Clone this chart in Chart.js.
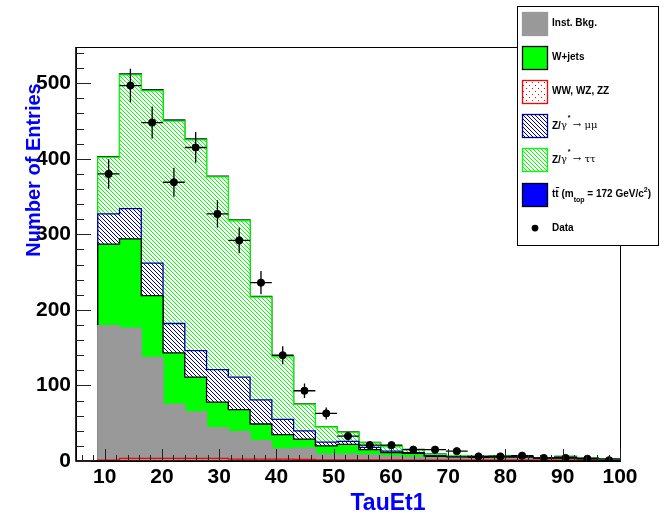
<!DOCTYPE html>
<html>
<head>
<meta charset="utf-8">
<script src="https://cdn.jsdelivr.net/npm/chart.js@4.4.1/dist/chart.umd.min.js"></script>
<style>
  html, body { margin: 0; padding: 0; background: #fff; }
</style>
</head>
<body>
<canvas id="myChart" width="660" height="518"></canvas>
<script>
// histogram bin edges (bins of 3.8 GeV, first bin 5-8.8 is empty)
const xEdges = [8.8, 12.6, 16.4, 20.2, 24, 27.8, 31.6, 35.4, 39.2, 43, 46.8, 50.6, 54.4, 58.2, 62, 65.8, 69.6, 73.4, 77.2, 81, 84.8, 88.6, 92.4, 96.2, 100];

// one value per bin, bottom of the stack first
const dibosons = [1, 3.5, 3.5, 3.5, 3.5, 3.5, 2.5, 2.5, 2.5, 2, 1.5, 1.5, 1.5, 1.5, 1, 1, 1, 1, 1, 1, 1, 1, 1, 0.5];
const instBkg = [178, 172.5, 133.5, 71.5, 61.5, 40.5, 36.5, 24.5, 13.5, 15, 7.5, 7.5, 6.5, 4.5, 4, 3, 2.5, 2, 2, 2, 1.5, 1.5, 1, 1];
const wJets = [108, 118, 82, 68, 46, 34, 29, 22, 19, 12, 11, 13, 7, 5, 5, 2, 1.5, 1.5, 2, 2, 0.5, 2, 1, 0.5];
const zMuMu = [40, 40, 43, 39, 35, 43, 43, 32, 20, 11, 5, 4, 3, 2, 1, 1, 0.5, 0.5, 1, 1, 0.5, 0.5, 0.5, 0.5];
const zTauTau = [75, 177, 228, 268, 279, 255, 207, 136, 83, 35, 20, 12, 6, 6, 4, 2, 1.5, 1, 1, 1, 0.5, 1, 0.5, 0.5];
const ttbar = [1, 1.5, 1.5, 1.5, 1.5, 1, 1, 1, 0.5, 0.5, 0.5, 0.5, 0.5, 0.3, 0.3, 0.3, 0.2, 0.2, 0.2, 0.2, 0.2, 0.1, 0.1, 0.1];

const dataCounts = [380, 497, 448, 369, 415, 327, 292, 236, 140, 93, 63, 33, 21, 21, 15, 15, 13, 6, 6, 7, 4, 4, 3, 1];

const xTickLabels = [10, 20, 30, 40, 50, 60, 70, 80, 90, 100];
const yTickLabels = [0, 100, 200, 300, 400, 500];

const FONT = "'Liberation Sans', Arial, Helvetica, sans-serif";
const GRAY = "rgb(153,153,153)";
const GREEN = "rgb(0,255,0)";
const NAVY = "rgb(0,0,153)";
const RED = "rgb(255,0,0)";

// hatch patterns like ROOT fill styles
function hatch(color) {
    const c = document.createElement("canvas");
    c.width = 4; c.height = 4;
    const g = c.getContext("2d");
    g.fillStyle = "#fff";
    g.fillRect(0, 0, 4, 4);
    g.fillStyle = color;
    for (let i = 0; i < 4; i++) g.fillRect(i, i, 1, 1);
    return g.createPattern(c, "repeat");
}

function dots(color) {
    const c = document.createElement("canvas");
    c.width = 6; c.height = 6;
    const g = c.getContext("2d");
    g.fillStyle = color;
    g.fillRect(1, 1, 1, 1);
    g.fillRect(4, 4, 1, 1);
    return g.createPattern(c, "repeat");
}

const tauFill = hatch(GREEN);
const muFill = hatch(NAVY);
const wwFill = dots(RED);

// cumulative stack, like THStack
const layers = [dibosons, instBkg, wJets, zMuMu, zTauTau, ttbar];
let running = dibosons.map(() => 0);
const stacked = layers.map(arr => running = running.map((v, i) => v + arr[i]));

function stepPoints(vals) {
    const pts = [{ x: xEdges[0], y: 0 }];
    vals.forEach((v, i) => pts.push({ x: xEdges[i], y: v }));
    const last = xEdges[xEdges.length - 1];
    pts.push({ x: last, y: vals[vals.length - 1] });
    pts.push({ x: last, y: 0 });
    return pts;
}

function histo(label, vals, fill, border, order) {
    return {
        label, data: stepPoints(vals),
        stepped: true, fill: "origin",
        backgroundColor: fill, borderColor: border, borderWidth: 1.3,
        pointRadius: 0, pointHoverRadius: 0, order
    };
}

const binCenters = dataCounts.map((v, i) => (xEdges[i] + xEdges[i + 1]) / 2);

const wwHist = histo("WW, WZ, ZZ", stacked[0], wwFill, RED, 1);
// the empty first bin is drawn too, as a line on zero
wwHist.data.unshift({ x: 5, y: 0 });

const datasets = [
    {
        type: "scatter", label: "Data",
        data: dataCounts.map((v, i) => ({ x: binCenters[i], y: v })),
        backgroundColor: "#000", borderColor: "#000",
        pointRadius: 3.6, order: 0
    },
    wwHist,
    histo("Inst. Bkg.", stacked[1], GRAY, GRAY, 2),
    histo("W+jets", stacked[2], GREEN, "#000", 3),
    histo("Z mumu", stacked[3], muFill, NAVY, 4),
    histo("Z tautau", stacked[4], tauFill, GREEN, 5),
    histo("ttbar", stacked[5], "rgb(0,0,255)", "#222", 6)
];

// ticks inside frame, error bars, titles and legend
const rootStyle = {
    id: "rootStyle",
    afterDatasetsDraw(chart) {
        const ctx = chart.ctx;
        const xs = chart.scales.x, ys = chart.scales.y;
        ctx.save();
        ctx.strokeStyle = "#000";
        ctx.lineWidth = 1.3;
        dataCounts.forEach((n, i) => {
            const cx = xs.getPixelForValue(binCenters[i]);
            const cy = ys.getPixelForValue(n);
            const err = Math.sqrt(n);
            ctx.beginPath();
            ctx.moveTo(xs.getPixelForValue(xEdges[i]), cy);
            ctx.lineTo(xs.getPixelForValue(xEdges[i + 1]), cy);
            ctx.moveTo(cx, ys.getPixelForValue(n - err));
            ctx.lineTo(cx, ys.getPixelForValue(n + err));
            ctx.stroke();
        });
        ctx.restore();
    },
    afterDraw(chart) {
        const ctx = chart.ctx;
        const a = chart.chartArea;
        const xs = chart.scales.x, ys = chart.scales.y;
        ctx.save();
        // frame
        ctx.strokeStyle = "#000";
        ctx.lineWidth = 1;
        ctx.strokeRect(a.left + 0.5, a.top + 0.5, a.right - a.left, a.bottom - a.top);
        ctx.lineWidth = 1.6;
        ctx.beginPath();
        ctx.moveTo(a.left, a.top); ctx.lineTo(a.left, a.bottom); ctx.lineTo(a.right, a.bottom);
        ctx.stroke();
        // ticks
        ctx.lineWidth = 1;
        ctx.strokeStyle = "#222";
        ctx.beginPath();
        for (let v = 0; v <= 540; v += 20) {
            const py = Math.round(ys.getPixelForValue(v)) + 0.5;
            const len = v % 100 === 0 ? 15 : 8;
            ctx.moveTo(a.left, py); ctx.lineTo(a.left + len, py);
        }
        for (let v = 6; v <= 100; v += 2) {
            const px = Math.round(xs.getPixelForValue(v)) + 0.5;
            const len = v % 10 === 0 ? 12 : 6;
            ctx.moveTo(px, a.bottom); ctx.lineTo(px, a.bottom - len);
        }
        ctx.stroke();

        // axis titles
        ctx.fillStyle = "rgb(0,0,255)";
        ctx.font = "bold 23px " + FONT;
        ctx.textAlign = "center";
        ctx.textBaseline = "alphabetic";
        ctx.fillText("TauEt1", 388, 510);
        ctx.save();
        ctx.translate(40, 170);
        ctx.rotate(-Math.PI / 2);
        ctx.font = "bold 20px " + FONT;
        ctx.fillText("Number of Entries", 0, 0);
        ctx.restore();

        // legend box
        const bx = 517.5, by = 6.5, bw = 141, bh = 239;
        ctx.fillStyle = "#fff";
        ctx.fillRect(bx, by, bw, bh);
        ctx.strokeStyle = "#000";
        ctx.lineWidth = 1;
        ctx.strokeRect(bx, by, bw, bh);

        const swatches = [
            [GRAY, GRAY], [GREEN, "#000"], [wwFill, RED],
            [muFill, NAVY], [tauFill, GREEN], ["rgb(0,0,255)", "#000"]
        ];
        const rowY = i => 23.5 + 34.1 * i;
        swatches.forEach((s, i) => {
            const top = Math.round(rowY(i) - 11.5);
            ctx.fillStyle = s[0];
            ctx.fillRect(522, top, 25, 23);
            ctx.strokeStyle = s[1];
            ctx.lineWidth = 1.3;
            ctx.strokeRect(522.5, top + 0.5, 25, 23);
        });
        // data marker
        ctx.fillStyle = "#000";
        ctx.beginPath();
        ctx.arc(535, rowY(6), 3.4, 0, Math.PI * 2);
        ctx.fill();

        ctx.textAlign = "left";
        ctx.textBaseline = "middle";
        const bold = "bold 10px " + FONT;
        const small = "bold 7px " + FONT;
        const sym = "10px 'DejaVu Serif', serif";
        let tx = 552;
        ctx.font = bold;
        ctx.fillText("Inst. Bkg.", tx, rowY(0));
        ctx.fillText("W+jets", tx, rowY(1));
        ctx.fillText("WW, WZ, ZZ", tx, rowY(2));

        function zLabel(y, leptons) {
            let x = tx;
            ctx.font = bold;
            ctx.fillText("Z/", x, y);
            x += ctx.measureText("Z/").width;
            ctx.font = sym;
            ctx.fillText("\u03b3", x, y);
            x += ctx.measureText("\u03b3").width;
            ctx.font = small;
            ctx.fillText("*", x + 1, y - 8);
            x += 6;
            ctx.font = sym;
            ctx.fillText("\u2192 " + leptons, x, y);
        }
        zLabel(rowY(3), "\u03bc\u03bc");
        zLabel(rowY(4), "\u03c4\u03c4");

        // t tbar (m_top = 172 GeV/c^2)
        let x = tx, y = rowY(5);
        ctx.font = bold;
        ctx.fillText("tt", x, y);
        const tw = ctx.measureText("t").width;
        ctx.fillRect(x + tw + 0.5, y - 7, tw, 1);
        x += ctx.measureText("tt ").width;
        ctx.fillText("(m", x, y);
        x += ctx.measureText("(m").width;
        ctx.font = small;
        ctx.fillText("top", x, y + 6);
        x += ctx.measureText("top").width;
        ctx.font = bold;
        ctx.fillText(" = 172 GeV/c", x, y);
        x += ctx.measureText(" = 172 GeV/c").width;
        ctx.font = small;
        ctx.fillText("2", x, y - 4);
        x += ctx.measureText("2").width;
        ctx.font = bold;
        ctx.fillText(")", x, y);

        ctx.fillText("Data", tx, rowY(6));
        ctx.restore();
    }
};

const tickFont = { family: FONT, weight: "bold", size: 21 };

const myChart = document.getElementById("myChart");
const chart = new Chart(myChart, {
    type: "line",
    data: { datasets },
    options: {
        responsive: false,
        animation: false,
        devicePixelRatio: 1,
        layout: { padding: { top: 47, right: 40, left: 0, bottom: 0 } },
        plugins: { legend: { display: false }, tooltip: { enabled: false } },
        scales: {
            x: {
                type: "linear", min: 5, max: 100,
                afterFit: s => { s.height = 57; },
                afterBuildTicks: s => { s.ticks = xTickLabels.map(v => ({ value: v })); },
                grid: { display: false, drawTicks: false },
                border: { display: false },
                ticks: { font: tickFont, color: "#000", padding: 4, maxRotation: 0, autoSkip: false }
            },
            y: {
                type: "linear", min: 0, max: 548,
                afterFit: s => { s.width = 76; },
                afterBuildTicks: s => { s.ticks = yTickLabels.map(v => ({ value: v })); },
                grid: { display: false, drawTicks: false },
                border: { display: false },
                ticks: { font: tickFont, color: "#000", padding: 5 }
            }
        }
    },
    plugins: [rootStyle]
});
</script>
</body>
</html>
